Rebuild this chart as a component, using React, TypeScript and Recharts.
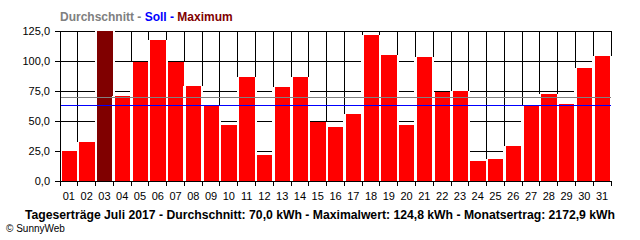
import { BarChart, Bar, XAxis, YAxis, CartesianGrid, ReferenceLine } from 'recharts'

// daily yield July 2017, kWh
const DAYS = [
  '01', '02', '03', '04', '05', '06', '07', '08', '09', '10',
  '11', '12', '13', '14', '15', '16', '17', '18', '19', '20',
  '21', '22', '23', '24', '25', '26', '27', '28', '29', '30', '31',
]
const YIELD_KWH = [
  25.4, 32.7, 124.8, 71.0, 99.3, 117.7, 99.3, 79.3, 63.2, 46.8,
  86.8, 21.8, 78.5, 86.8, 49.3, 45.2, 56.0, 121.8, 105.2, 46.8,
  103.5, 74.3, 75.4, 16.8, 18.5, 29.3, 63.2, 72.7, 64.3, 94.3, 104.3,
]
const AVERAGE = 70.0
const TARGET = 63.0
const Y_TICKS = [0, 25, 50, 75, 100, 125]

const W = 640
const H = 240
const MARGIN = { top: 31, right: 29, bottom: 39, left: 0 }
const Y_AXIS_W = 60
const PLOT_W = W - MARGIN.left - MARGIN.right - Y_AXIS_W
const BAND = PLOT_W / DAYS.length
const FONT = 'Liberation Sans, Arial, sans-serif'

const data = DAYS.map((day, i) => ({ day, kwh: YIELD_KWH[i] }))
const maxKwh = Math.max(...YIELD_KWH)

const fmt = (v: number) => v.toFixed(1).replace('.', ',')

// white slot over the full category, red bar slightly inset (like the original)
const BarShape = (props: any) => {
  const { x, y, width, height, payload } = props
  const fill = payload.kwh === maxKwh ? '#800000' : '#ff0000'
  return (
    <g shapeRendering="crispEdges">
      <rect x={x - 1} y={y} width={width + 2} height={height} fill="#ffffff" />
      <rect x={x + 1.5} y={y} width={width - 2.5} height={height} fill={fill} />
    </g>
  )
}

const XTick = (props: any) => {
  const { x, y, payload, index } = props
  const last = index === DAYS.length - 1
  return (
    <g>
      <line x1={x - BAND / 2} x2={x - BAND / 2} y1={y} y2={y + 5} stroke="#000" shapeRendering="crispEdges" />
      {last && (
        <line x1={x + BAND / 2} x2={x + BAND / 2} y1={y} y2={y + 5} stroke="#000" shapeRendering="crispEdges" />
      )}
      <text x={x} y={y + 19} textAnchor="middle" fontSize={11} fontFamily={FONT} fill="#000">
        {payload.value}
      </text>
    </g>
  )
}

const crisp = `
.recharts-cartesian-grid line,
.recharts-reference-line line,
.recharts-cartesian-axis line { shape-rendering: crispEdges; }
`

export default function App() {
  return (
    <div style={{ position: 'absolute', left: 0, top: 0, width: W, height: H, background: '#fff' }}>
      <style>{crisp}</style>
      <BarChart width={W} height={H} data={data} margin={MARGIN} barCategoryGap={0}>
        <CartesianGrid
          stroke="#000"
          verticalCoordinatesGenerator={({ offset }: any) =>
            Array.from({ length: DAYS.length + 1 }, (_, i) => offset.left + (i * offset.width) / DAYS.length)
          }
        />
        <XAxis
          dataKey="day"
          interval={0}
          height={20}
          tickSize={0}
          tickMargin={0}
          tickLine={false}
          axisLine={{ stroke: '#000' }}
          tick={<XTick />}
        />
        <YAxis
          width={Y_AXIS_W}
          domain={[0, 125]}
          ticks={Y_TICKS}
          tickFormatter={fmt}
          tickSize={5}
          tickMargin={5}
          axisLine={{ stroke: '#000' }}
          tickLine={{ stroke: '#000' }}
          tick={{ fill: '#000', fontSize: 11, fontFamily: FONT }}
        />
        <Bar dataKey="kwh" shape={<BarShape />} isAnimationActive={false} />
        <ReferenceLine y={AVERAGE} stroke="#808080" strokeWidth={1} />
        <ReferenceLine y={TARGET} stroke="#0000ff" strokeWidth={1} />
      </BarChart>
      <svg
        width={W}
        height={H}
        style={{ position: 'absolute', left: 0, top: 0, pointerEvents: 'none' }}
        fontFamily={FONT}
      >
        <text x={60} y={21} fontSize={12} fontWeight="bold">
          <tspan fill="#808080">Durchschnitt -</tspan>
          <tspan fill="#0000ff"> Soll -</tspan>
          <tspan fill="#800000"> Maximum</tspan>
        </text>
        <text x={25} y={219} fontSize={12} fontWeight="bold" fill="#000" textLength={590} lengthAdjust="spacingAndGlyphs">
          {`Tageserträge Juli 2017 - Durchschnitt: ${fmt(AVERAGE)} kWh - Maximalwert: ${fmt(maxKwh)} kWh - Monatsertrag: 2172,9 kWh`}
        </text>
        <text x={6} y={232} fontSize={10} fill="#000">
          © SunnyWeb
        </text>
      </svg>
    </div>
  )
}
